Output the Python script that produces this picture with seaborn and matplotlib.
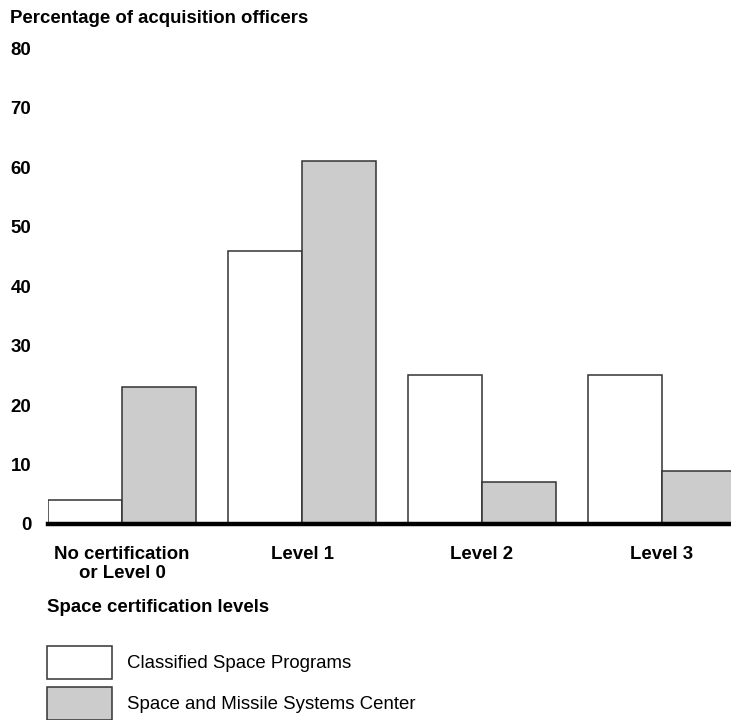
import pandas as pd
import matplotlib.pyplot as plt
import seaborn as sns

# chart values
levels = ["No certification\nor Level 0", "Level 1", "Level 2", "Level 3"]
groups = ["Classified Space Programs", "Space and Missile Systems Center"]
classified = [4, 46, 25, 25]
smc = [23, 61, 7, 9]
yticks = [0, 10, 20, 30, 40, 50, 60, 70, 80]

df = pd.DataFrame({
    "level": levels * 2,
    "group": [groups[0]] * 4 + [groups[1]] * 4,
    "pct": classified + smc,
})

sns.set_style("white")
plt.rcParams["font.family"] = ["Liberation Sans", "DejaVu Sans"]
plt.rcParams["text.color"] = "black"
plt.rcParams["xtick.color"] = "black"
plt.rcParams["ytick.color"] = "black"
FS = 13.4

W, H = 731, 720
fig = plt.figure(figsize=(W / 100, H / 100), dpi=100)
ax = fig.add_axes([48 / W, 1 - 524 / H, 1 - 48 / W, (524 - 48.5) / H])

sns.barplot(data=df, x="level", y="pct", hue="group", palette=["white", "#cccccc"],
            edgecolor="#333333", linewidth=1.1, width=0.822, ax=ax)

ax.set_ylim(0, 80)
ax.set_xlim(-0.411, 3.383)
ax.set_yticks(yticks)
ax.set_yticklabels([str(t) for t in yticks], fontsize=FS, fontweight="bold")
ax.set_xticks(range(len(levels)))
ax.set_xticklabels(levels, fontsize=FS, fontweight="bold", linespacing=1.17)
ax.tick_params(axis="y", length=0, pad=12)
ax.tick_params(axis="x", length=0, pad=15.5)
ax.set_xlabel("")
ax.set_ylabel("")
for s in ["top", "right", "left"]:
    ax.spines[s].set_visible(False)
ax.spines["bottom"].set_linewidth(3.2)
ax.spines["bottom"].set_color("black")

handles, labels = ax.get_legend_handles_labels()
ax.get_legend().remove()
fig.legend(handles, labels, loc="upper left", bbox_to_anchor=(47 / W, 1 - 646 / H),
           frameon=False, fontsize=FS, handlelength=3.5, handleheight=2.35,
           labelspacing=0.43, handletextpad=0.8, borderpad=0, borderaxespad=0)

fig.text(10 / W, 1 - 23 / H, "Percentage of acquisition officers",
         fontsize=FS, fontweight="bold", va="baseline")
fig.text(47 / W, 1 - 612 / H, "Space certification levels",
         fontsize=FS, fontweight="bold", va="baseline")

fig.savefig("out.png", dpi=100, facecolor="white")
